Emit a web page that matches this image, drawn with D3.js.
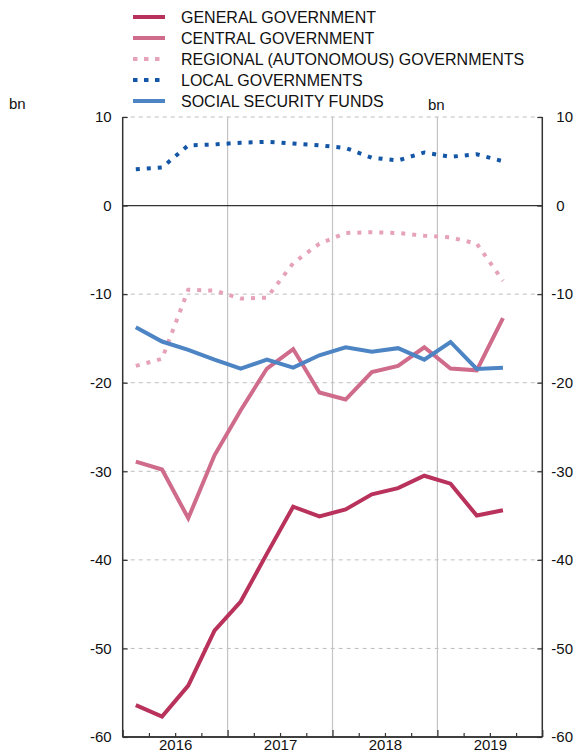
<!DOCTYPE html>
<html>
<head>
<meta charset="utf-8">
<script src="https://cdn.jsdelivr.net/npm/d3@7/dist/d3.min.js"></script>
<style>
  html, body { margin: 0; padding: 0; background: #fff; }
  svg { display: block; font-family: "Liberation Sans", Arial, Helvetica, sans-serif; }
</style>
</head>
<body>
<svg id="chart" width="577" height="754"></svg>
<script>
// ---- Data (quarterly, Q1 2016 – Q3 2019), € bn ----
const quarters = ["2016Q1","2016Q2","2016Q3","2016Q4","2017Q1","2017Q2","2017Q3","2017Q4",
                  "2018Q1","2018Q2","2018Q3","2018Q4","2019Q1","2019Q2","2019Q3"];
const generalGov  = [-56.4, -57.7, -54.2, -48.0, -44.7, -39.3, -34.0, -35.1, -34.3, -32.6, -31.9, -30.5, -31.4, -35.0, -34.4];
const centralGov  = [-28.9, -29.8, -35.3, -28.2, -23.1, -18.4, -16.2, -21.1, -21.9, -18.8, -18.1, -16.0, -18.4, -18.6, -12.7];
const regionalGov = [-18.1, -17.3, -9.5, -9.6, -10.5, -10.4, -6.5, -4.3, -3.1, -3.0, -3.1, -3.4, -3.6, -4.3, -8.5];
const localGov    = [4.1, 4.3, 6.8, 6.9, 7.1, 7.2, 7.0, 6.8, 6.5, 5.4, 5.1, 6.0, 5.5, 5.8, 5.0];
const socialSec   = [-13.75, -15.35, -16.3, -17.4, -18.4, -17.4, -18.3, -16.9, -16.0, -16.5, -16.1, -17.4, -15.4, -18.45, -18.3];

const seriesNames = ["GENERAL GOVERNMENT", "CENTRAL GOVERNMENT", "REGIONAL (AUTONOMOUS) GOVERNMENTS",
                     "LOCAL GOVERNMENTS", "SOCIAL SECURITY FUNDS"];
const yearLabels = ["2016", "2017", "2018", "2019"];
const yTickValues = [10, 0, -10, -20, -30, -40, -50, -60];
const yGridValues = [10, -10, -20, -30, -40, -50];

// ---- Styles ----
const colors = ["#b8325c", "#cf6b8b", "#e6a2ba", "#1456a6", "#4d84c4"];
const dashes = [null, null, "4,7", "4,7", null];

const svg = d3.select("#chart");
const X0 = 122.7, X1 = 542.3, Y0 = 117, Y1 = 737;

const x = d3.scaleLinear().domain([2016, 2020]).range([X0, X1]);
const y = d3.scaleLinear().domain([-60, 10]).range([Y1, Y0]);

const qx = q => { const yr = +q.slice(0, 4), n = +q.slice(5); return yr + (n - 0.5) / 4; };

// ---- Grid ----
const grid = svg.append("g");
grid.selectAll("line.h").data(yGridValues).join("line")
  .attr("x1", X0).attr("x2", X1)
  .attr("y1", d => y(d)).attr("y2", d => y(d))
  .attr("stroke", "#bdbdbd").attr("stroke-width", 1).attr("stroke-dasharray", "4,4");
grid.selectAll("line.v").data([2017, 2018, 2019]).join("line")
  .attr("x1", d => x(d)).attr("x2", d => x(d))
  .attr("y1", Y0).attr("y2", Y1)
  .attr("stroke", "#c4c4c4").attr("stroke-width", 1.2);
// zero line
svg.append("line").attr("x1", X0).attr("x2", X1).attr("y1", y(0)).attr("y2", y(0))
  .attr("stroke", "#333").attr("stroke-width", 1.2);

// ---- Axes ----
const fmt = d => String(d);
const leftAxis = svg.append("g").attr("transform", `translate(${X0},0)`)
  .call(d3.axisLeft(y).tickValues(yTickValues).tickSize(-5).tickPadding(11).tickFormat(fmt));
const rightAxis = svg.append("g").attr("transform", `translate(${X1},0)`)
  .call(d3.axisRight(y).tickValues(yTickValues).tickSize(-5).tickPadding(14).tickFormat(fmt));
rightAxis.selectAll("text").attr("dx", d => d < 0 ? -5 : 0);

const qTicks = d3.range(2016, 2020.001, 0.25).filter(v => Math.abs(v - Math.round(v)) > 0.01);
const bottomQ = svg.append("g").attr("transform", `translate(0,${Y1})`)
  .call(d3.axisBottom(x).tickValues(qTicks).tickSize(-4).tickFormat(""));
const bottomY = svg.append("g").attr("transform", `translate(0,${Y1})`)
  .call(d3.axisBottom(x).tickValues([2016, 2017, 2018, 2019, 2020]).tickSize(-7).tickFormat(""));
const bottomL = svg.append("g").attr("transform", `translate(0,${Y1})`)
  .call(d3.axisBottom(x).tickValues(yearLabels.map(d => +d + 0.5)).tickSize(0).tickPadding(2)
    .tickFormat((d, i) => yearLabels[i]));
bottomL.select(".domain").remove();
bottomL.selectAll(".tick line").remove();

[leftAxis, rightAxis, bottomQ, bottomY, bottomL].forEach(g => {
  g.selectAll(".domain").attr("stroke", "#333").attr("stroke-width", 1.5);
  g.selectAll(".tick line").attr("stroke", "#333").attr("stroke-width", 1.2);
  g.selectAll("text").attr("font-size", 15).attr("fill", "#111")
    .attr("font-family", "'Liberation Sans', Arial, sans-serif");
});
[leftAxis, rightAxis].forEach(g => g.select(".domain").attr("d", `M0,${Y0}V${Y1}`));
[bottomQ, bottomY].forEach(g => g.select(".domain").attr("d", `M${X0},0H${X1}`));

// ---- Lines ----
const allSeries = [generalGov, centralGov, regionalGov, localGov, socialSec];
const line = d3.line().x((d, i) => x(qx(quarters[i]))).y(d => y(d));
[2, 3, 1, 4, 0].forEach(k => {
  svg.append("path").datum(allSeries[k])
    .attr("d", line)
    .attr("fill", "none")
    .attr("stroke", colors[k])
    .attr("stroke-width", 4)
    .attr("stroke-linejoin", "miter")
    .attr("stroke-dasharray", dashes[k]);
});

// ---- Legend ----
const legend = svg.append("g");
const rowY = i => 17 + i * 21;
legend.selectAll("line").data(seriesNames).join("line")
  .attr("x1", 133).attr("x2", 165)
  .attr("y1", (d, i) => rowY(i)).attr("y2", (d, i) => rowY(i))
  .attr("stroke", (d, i) => colors[i])
  .attr("stroke-width", 4)
  .attr("stroke-dasharray", (d, i) => dashes[i] ? "4.5,6.5" : null);
legend.selectAll("text").data(seriesNames).join("text")
  .attr("x", 181).attr("y", (d, i) => rowY(i)).attr("dy", "0.36em")
  .attr("font-size", 16).attr("fill", "#111")
  .text(d => d);

// ---- Unit labels ----
svg.append("text").attr("x", 9).attr("y", 109).attr("font-size", 15).attr("fill", "#111").text("bn");
svg.append("text").attr("x", 428).attr("y", 110).attr("font-size", 15).attr("fill", "#111").text("bn");
</script>
</body>
</html>
